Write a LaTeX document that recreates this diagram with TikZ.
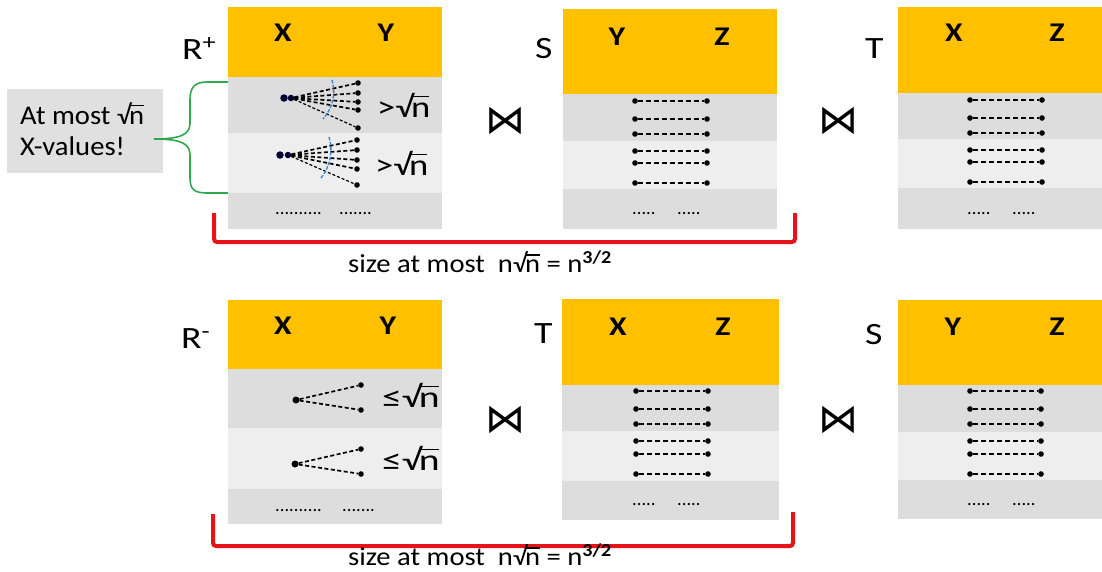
\documentclass[tikz,border=0pt]{standalone}
\usepackage{fontspec}
\setmainfont{Carlito}
\newfontfamily\symfont{DejaVu Sans}
\definecolor{hdr}{HTML}{FFC000}
\definecolor{rowdark}{HTML}{DDDDDD}
\definecolor{rowlight}{HTML}{EEEEEE}
\definecolor{notegray}{HTML}{E0E0E0}
\definecolor{arcblue}{HTML}{3C7FBF}
\definecolor{brkred}{HTML}{E5131A}
\definecolor{brcgreen}{HTML}{2FA84F}

% square root of n with a bar over the n
\newcommand\sqn{√\kern-0.07em\rlap{\rule[0.66em]{0.5em}{0.055em}}n}
% text widened horizontally
\newcommand\wide[2]{\scalebox{#1}[1]{#2}}

% a relation table: left, right, top, header bottom, row1 bottom, row2 bottom, bottom
\newcommand\reltable[7]{%
  \fill[rowdark] (#1,#4) rectangle (#2,#7);
  \fill[rowlight] (#1,#5) rectangle (#2,#6);
  \fill[hdr] (#1,#3) rectangle (#2,#4);
}

\tikzset{
  hcell/.style={font=\fontsize{27}{27}\selectfont\bfseries, inner sep=0},
  tlabel/.style={font=\fontsize{31}{31}\selectfont, inner sep=0, anchor=base west},
  cnt/.style={font=\fontsize{30}{30}\selectfont, inner sep=0, anchor=base west},
  dotrow/.style={font=\fontsize{18.5}{18.5}\selectfont, inner sep=0, anchor=base west},
  pairline/.style={dash pattern=on 5pt off 3pt, line width=1.3pt},
  fanline/.style={dash pattern=on 4pt off 2.5pt, line width=1.7pt},
  fanthin/.style={dash pattern=on 3pt off 2pt, line width=1.2pt},
  endpt/.style={circle, fill=black, inner sep=0, minimum size=5.6pt},
  hubpt/.style={circle, fill=black!80!blue, inner sep=0, minimum size=7.5pt},
  joinop/.style={font=\fontsize{40}{40}\selectfont\symfont, inner sep=0},
  sizetext/.style={font=\fontsize{26}{26}\selectfont, inner sep=0},
  bracket/.style={draw=brkred, line width=4pt, rounded corners=3pt},
  brace/.style={draw=brcgreen, line width=1.6pt},
  sweep/.style={draw=arcblue, dash pattern=on 3.5pt off 1.5pt, line width=1.3pt}
}

% horizontal tuple: two endpoints joined by a dashed line
\newcommand\tuple[4]{%
  \node[endpt] (#1a) at (#2,#4) {};
  \node[endpt] (#1b) at (#3,#4) {};
  \draw[pairline] (#1a) -- (#1b);
}

\begin{document}
\begin{tikzpicture}[x=1pt, y=-1pt]
\useasboundingbox (0,0) rectangle (1102,571);
\fill[white] (0,0) rectangle (1102,571);

% ---------------- upper row: R+ join S join T ----------------
\reltable{228}{442}{7}{77}{133}{193}{229}
\reltable{563}{777}{9}{94}{141}{189}{229}
\reltable{898}{1110}{7}{93}{139}{188}{229}

\node[tlabel] (rplus) at (182,59) {\wide{1.22}{R\textsuperscript{+}}};
\node[tlabel] (s1) at (535,58) {\wide{1.22}{S}};
\node[tlabel] (t1) at (865,58) {\wide{1.22}{T}};

\node[hcell] (rpx) at (283,33) {\wide{1.18}{X}};
\node[hcell] (rpy) at (386,33) {\wide{1.18}{Y}};
\node[hcell] (s1y) at (617,37) {\wide{1.18}{Y}};
\node[hcell] (s1z) at (722,37) {\wide{1.18}{Z}};
\node[hcell] (t1x) at (954,33) {\wide{1.18}{X}};
\node[hcell] (t1z) at (1057,33) {\wide{1.18}{Z}};

% heavy X-values: many Y partners each
\node[hubpt] (hubA) at (284,98) {};
\node[hubpt, minimum size=6.5pt] (hubA2) at (291,98) {};
\foreach \i/\yy in {1/83,2/93,3/102,4/110}{
  \node[endpt] (fa\i) at (358,\yy) {};
  \draw[fanline] (hubA2) -- (fa\i);
}
\node[endpt] (fa5) at (358,128) {};
\draw[fanthin] (hubA2) -- (fa5);
\draw[sweep] (332,80) .. controls (336,92) and (333,108) .. (323,119);
\node[cnt] (gtA) at (377,117) {\wide{1.22}{>\sqn}};

\node[hubpt] (hubB) at (280,155) {};
\node[hubpt, minimum size=6.5pt] (hubB2) at (288,155) {};
\foreach \i/\yy in {1/140,2/150,3/160,4/169}{
  \node[endpt] (fb\i) at (357,\yy) {};
  \draw[fanline] (hubB2) -- (fb\i);
}
\node[endpt] (fb5) at (357,185) {};
\draw[fanthin] (hubB2) -- (fb5);
\draw[sweep] (329,137) .. controls (333,149) and (331,166) .. (321,178);
\node[cnt] (gtB) at (375,175) {\wide{1.22}{>\sqn}};

\node[dotrow] (rpd1) at (275,214) {..........};
\node[dotrow] (rpd2) at (339,214) {.......};

\foreach \k/\yy in {1/101,2/119,3/134,4/151,5/163,6/183}{
  \tuple{sa\k}{635}{707}{\yy}
  \tuple{ta\k}{970}{1042}{\yy - 1}
}
\node[dotrow] (s1d1) at (632,214) {.....};
\node[dotrow] (s1d2) at (677,214) {.....};
\node[dotrow] (t1d1) at (967,214) {.....};
\node[dotrow] (t1d2) at (1012,214) {.....};

\node[joinop] (j1) at (505,121) {⋈};
\node[joinop] (j2) at (838,121) {⋈};

% note on the heavy values
\node[fill=notegray, minimum width=156pt, minimum height=84pt, inner sep=0] (note) at (85,131) {};
\node[font=\fontsize{27}{31}\selectfont, align=left, anchor=west, inner sep=0] (notetext) at (20,129) {\wide{1.06}{At most \sqn}\\\wide{1.06}{X-values!}};
\coordinate (brTop) at (228,82);
\coordinate (brTip) at (154,139);
\coordinate (brBot) at (228,193);
\draw[brace] (brTop) -- (207,82) .. controls (194,82) and (190,88) .. (190,100) -- (190,123)
  .. controls (190,134) and (182,139) .. (brTip);
\draw[brace] (brTip) .. controls (182,139) and (190,144) .. (190,155) -- (190,178)
  .. controls (190,189) and (194,193) .. (207,193) -- (brBot);

\coordinate (bkA1) at (214,213);
\coordinate (bkA2) at (795,213);
\draw[bracket] (bkA1) -- (214,242) -- (795,242) -- (bkA2);
\node[sizetext] (sizeA) at (480,262) {\wide{1.1}{size at most\ \ n\sqn{} = n\textsuperscript{\bfseries 3/2}}};

% ---------------- lower row: R- join T join S ----------------
\reltable{228}{442}{300}{369}{428}{489}{524}
\reltable{562}{779}{299}{385}{431}{481}{520}
\reltable{898}{1110}{300}{385}{432}{480}{519}

\node[tlabel] (rminus) at (181,348) {\wide{1.22}{R\textsuperscript{-}}};
\node[tlabel] (t2) at (534,343) {\wide{1.22}{T}};
\node[tlabel] (s2) at (865,344) {\wide{1.22}{S}};

\node[hcell] (rmx) at (283,326) {\wide{1.18}{X}};
\node[hcell] (rmy) at (388,326) {\wide{1.18}{Y}};
\node[hcell] (t2x) at (618,327) {\wide{1.18}{X}};
\node[hcell] (t2z) at (723,327) {\wide{1.18}{Z}};
\node[hcell] (s2y) at (953,327) {\wide{1.18}{Y}};
\node[hcell] (s2z) at (1057,327) {\wide{1.18}{Z}};

% light X-values: few Y partners each
\node[endpt, minimum size=7pt] (hubC) at (296,400) {};
\node[endpt] (fc1) at (361,385) {};
\node[endpt] (fc2) at (361,410) {};
\draw[fanline] (hubC) -- (fc1);
\draw[fanline] (hubC) -- (fc2);
\node[cnt] (leC) at (382,407) {\wide{1.32}{≤\sqn}};

\node[endpt, minimum size=7pt] (hubD) at (295,464) {};
\node[endpt] (fd1) at (361,449) {};
\node[endpt] (fd2) at (361,474) {};
\draw[fanline] (hubD) -- (fd1);
\draw[fanline] (hubD) -- (fd2);
\node[cnt] (leD) at (382,470) {\wide{1.32}{≤\sqn}};

\node[dotrow] (rmd1) at (275,511) {..........};
\node[dotrow] (rmd2) at (342,511) {.......};

\foreach \k/\yy in {1/391,2/409,3/424,4/441,5/454,6/474}{
  \tuple{tb\k}{636}{708}{\yy}
  \tuple{sb\k}{970}{1041}{\yy}
}
\node[dotrow] (t2d1) at (632,505) {.....};
\node[dotrow] (t2d2) at (677,505) {.....};
\node[dotrow] (s2d1) at (967,505) {.....};
\node[dotrow] (s2d2) at (1012,505) {.....};

\node[joinop] (j3) at (505,420) {⋈};
\node[joinop] (j4) at (838,420) {⋈};

\coordinate (bkB1) at (213,514);
\coordinate (bkB2) at (793,512);
\draw[bracket] (bkB1) -- (213,546) -- (793,546) -- (bkB2);
\node[sizetext] (sizeB) at (480,555) {\wide{1.1}{size at most\ \ n\sqn{} = n\textsuperscript{\bfseries 3/2}}};
\end{tikzpicture}
\end{document}
